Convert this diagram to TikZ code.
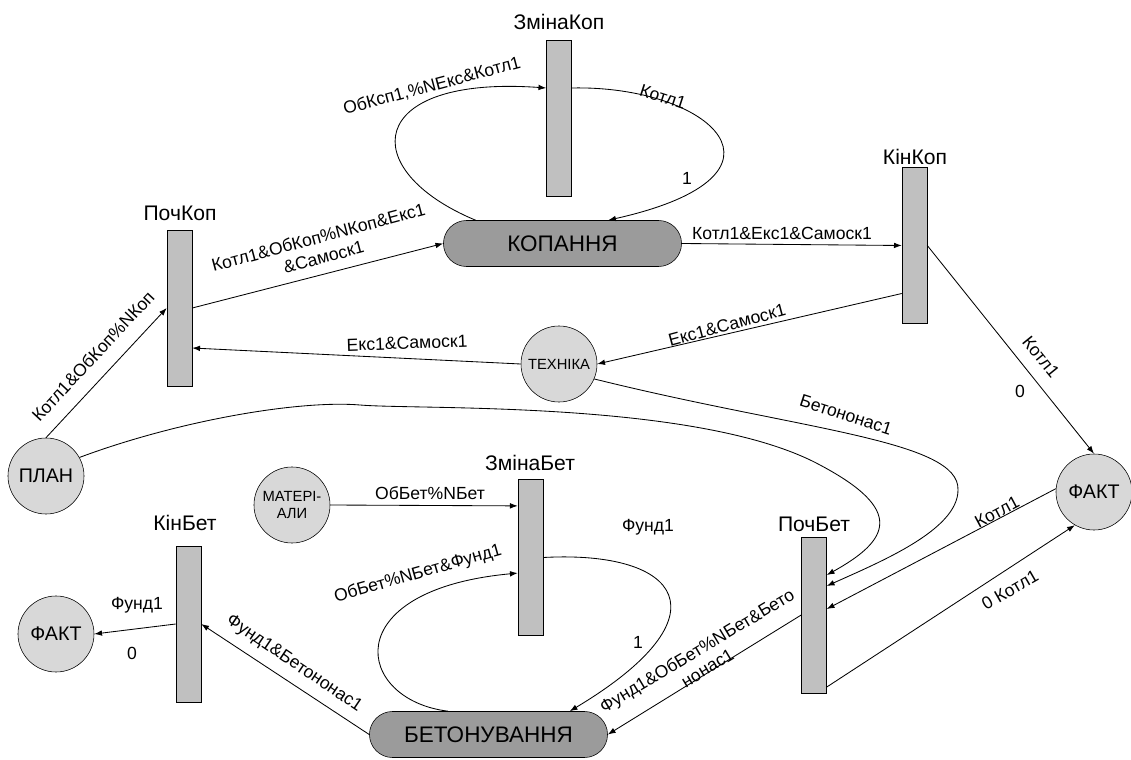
\documentclass[tikz,border=0pt]{standalone}
\usepackage{fontspec}
\setmainfont{Liberation Sans}
\usetikzlibrary{arrows.meta,shapes.misc}
\definecolor{transgray}{RGB}{192,192,192}
\definecolor{placegray}{RGB}{216,216,216}
\definecolor{actgray}{RGB}{155,155,155}

\begin{document}
\begin{tikzpicture}[x=0.025cm,y=-0.025cm,
trans/.style={draw,fill=transgray,minimum width=0.625cm,minimum height=3.9cm,inner sep=0pt},
tname/.style={font=\fontsize{15}{17}\selectfont},
place/.style={draw,circle,fill=placegray,minimum size=1.9cm,inner sep=0pt,font=\fontsize{14}{16}\selectfont},
smallplace/.style={place,align=center,font=\fontsize{10.5}{12}\selectfont},
activity/.style={draw,rounded rectangle,fill=actgray,minimum width=5.95cm,minimum height=1.15cm,inner sep=0pt,font=\fontsize{16}{18}\selectfont},
arc/.style={-{Latex[length=5.5pt,width=4pt]},line width=0.6pt},
lbl/.style={font=\fontsize{12.5}{14.5}\selectfont,inner sep=0pt,align=center},
]
\useasboundingbox(0,0)rectangle(1131,760);
%transitions
\node[trans](zkop)at(559,118){};
\node[trans](pkop)at(179.5,308){};
\node[trans](kkop)at(914.5,245.5){};
\node[trans](zbet)at(530.5,557.5){};
\node[trans](kbet)at(188.5,624){};
\node[trans](pbet)at(814,615){};
%transition names
\node[tname](zkopname)at(559,22){ЗмінаКоп};
\node[tname](pkopname)at(180,213){ПочКоп};
\node[tname](kkopname)at(915,157){КінКоп};
\node[tname](zbetname)at(530,463){ЗмінаБет};
\node[tname](kbetname)at(185,523){КінБет};
\node[tname](pbetname)at(814,524){ПочБет};
%places
\node[place](plan)at(46,476){ПЛАН};
\node[smallplace](tekh)at(559,364){ТЕХНІКА};
\node[smallplace](mat)at(292,505){МАТЕРІ-\\АЛИ};
\node[place](faktr)at(1094,492){ФАКТ};
\node[place](faktl)at(56,634){ФАКТ};
%activities
\node[activity](kop)at(562.5,243.5){КОПАННЯ};
\node[activity](bet)at(488.5,734.5){БЕТОНУВАННЯ};

%digging
\draw[arc](plan.north)--(pkop.west);
\draw[arc](pkop.east)--(kop.west);
\draw[arc](tekh.west)--([yshift=-1cm]pkop.east);
\draw[arc](kop.east)--(kkop.west);
\draw[arc]([yshift=-1.2cm]kkop.west)--(tekh.east);
\draw[arc](kop.165)..controls(355,170)and(365,75)..([yshift=0.75cm]zkop.west);
\draw[arc]([yshift=0.75cm]zkop.east)..controls(710,85)and(810,175)..(kop.27);
\draw[arc](kkop.east)--(faktr.north);
%concreting
\draw[arc](tekh.-23)..controls(800,430)and(960,440)..(958,490)
  ..controls(958,530)and(880,562)..([yshift=0.725cm]pbet.east);
\draw[arc](plan.29)..controls(180,420)and(300,400)..(360,405)
  ..controls(420,410)and(700,400)..(820,465)
  ..controls(905,510)and(890,540)..([yshift=1cm]pbet.east);
\draw[arc](faktr.175)--([yshift=0.15cm]pbet.east);
\draw[arc]([yshift=-1.8cm]pbet.east)--(faktr.240);
\draw[arc](pbet.west)--(bet.east);
\draw[arc](mat.east)--([yshift=1.29cm]zbet.west);
\draw[arc](bet.150)..controls(355,700)and(335,590)..([yshift=-0.39cm]zbet.west);
\draw[arc](zbet.east)..controls(680,550)and(730,615)..(bet.16);
\draw[arc](bet.west)--(kbet.east);
\draw[arc](kbet.west)--(faktl.east);

%arc labels
\node[lbl,rotate=47](l1)at(93,356){Котл1\&ОбКоп\%NКоп};
\node[lbl,rotate=15](l2)at(321,247){Котл1\&ОбКоп\%NКоп\&Екс1\\\&Самоск1};
\node[lbl,rotate=2](l3)at(407,343){Екс1\&Самоск1};
\node[lbl](l4)at(782,233){Котл1\&Екс1\&Самоск1};
\node[lbl,rotate=15](l5)at(727,325){Екс1\&Самоск1};
\node[lbl,rotate=15](l6)at(432,86){ОбКсп1,\%NЕкс\&Котл1};
\node[lbl,rotate=-18](l7)at(663,97){Котл1};
\node[lbl](l8)at(687,178){1};
\node[lbl,rotate=-51](l9)at(1041,357){Котл1};
\node[lbl](l10)at(1020,391){0};
\node[lbl,rotate=-18](l11)at(846,415){Бетононас1};
\node[lbl,rotate=28](l12)at(997,512){Котл1};
\node[lbl,rotate=30](l13)at(1010,590){0 Котл1};
\node[lbl,rotate=31](l14)at(702,659){Фунд1\&ОбБет\%NБет\&Бето\\нонас1};
\node[lbl](l15)at(430,493){ОбБет\%NБет};
\node[lbl,rotate=16](l16)at(418,574){ОбБет\%NБет\&Фунд1};
\node[lbl](l17)at(648,527){Фунд1};
\node[lbl](l18)at(638,642){1};
\node[lbl,rotate=-34](l19)at(294,664){Фунд1\&Бетононас1};
\node[lbl](l20)at(137,605){Фунд1};
\node[lbl](l21)at(132,653){0};

\end{tikzpicture}
\end{document}
